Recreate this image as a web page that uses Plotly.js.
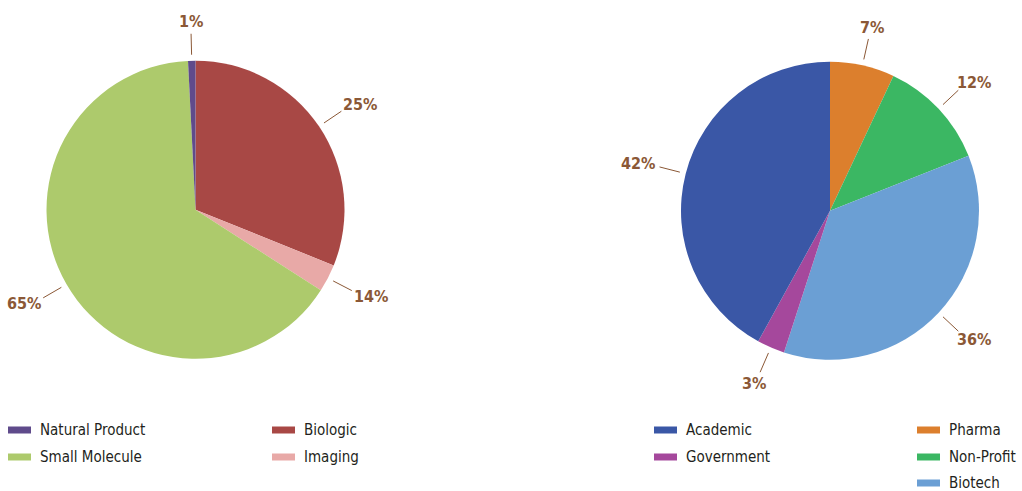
<!DOCTYPE html>
<html><head><meta charset="utf-8">
<script src="https://cdn.plot.ly/plotly-3.0.1.min.js"></script>
<style>html,body{margin:0;padding:0;background:#fff}</style>
</head><body><div id="chart" style="width:1022px;height:491px"></div>
<script>
// ---- data ----
const leftLabels = ['Biologic', 'Imaging', 'Small Molecule', 'Natural Product'];
const leftValues = [31.1, 3.0, 65.1, 0.8];
const leftText = ['25%', '14%', '65%', '1%'];
const leftColors = ['#a84845', '#e8a9a7', '#adca6c', '#5f4b8b'];

const rightLabels = ['Pharma', 'Non-Profit', 'Biotech', 'Government', 'Academic'];
const rightValues = [7, 12, 36, 3, 42];
const rightText = ['7%', '12%', '36%', '3%', '42%'];
const rightColors = ['#dc7f2d', '#3bb763', '#6b9fd4', '#a5489c', '#3a57a6'];

const leftLegendRows = [['Natural Product', 'Biologic'], ['Small Molecule', 'Imaging']];
const rightLegendRows = [['Academic', 'Pharma'], ['Government', 'Non-Profit'], [null, 'Biotech']];

// ---- layout config ----
const W = 1022, H = 491;
const FONT = '"DejaVu Sans Condensed", "Liberation Sans", sans-serif';
const LABEL_COLOR = '#8b5836';
const pies = [
  {labels: leftLabels, values: leftValues, text: leftText, colors: leftColors, cx: 195.5, cy: 209.7, r: 149,
   legend: leftLegendRows, legX: [8, 272]},
  {labels: rightLabels, values: rightValues, text: rightText, colors: rightColors, cx: 830, cy: 210.7, r: 149,
   legend: rightLegendRows, legX: [654, 917]}
];
const legRowY = [430, 457, 483];

const px = x => x / W;
const py = y => 1 - y / H;

const traces = [], shapes = [], annotations = [];

pies.forEach(p => {
  traces.push({
    type: 'pie', labels: p.labels, values: p.values, sort: false, direction: 'clockwise', rotation: 0,
    marker: {colors: p.colors, line: {width: 0}}, textinfo: 'none', hoverinfo: 'label+percent',
    showlegend: false,
    domain: {x: [px(p.cx - p.r), px(p.cx + p.r)], y: [py(p.cy + p.r), py(p.cy - p.r)]}
  });
  const total = p.values.reduce((a, b) => a + b, 0);
  let cum = 0;
  p.values.forEach((v, i) => {
    const mid = (cum + v / 2) / total * 2 * Math.PI;
    cum += v;
    const dx = Math.sin(mid), dy = -Math.cos(mid);
    const r1 = p.r + 6, r2 = p.r + 27;
    const x1 = p.cx + dx * r1, y1 = p.cy + dy * r1;
    const x2 = p.cx + dx * r2, y2 = p.cy + dy * r2;
    shapes.push({type: 'line', xref: 'paper', yref: 'paper', x0: px(x1), y0: py(y1), x1: px(x2), y1: py(y2),
      line: {color: LABEL_COLOR, width: 1}});
    const halfW = 5.3 * p.text[i].length, halfH = 7;
    const lx = x2 + dx * (halfW + 6), ly = y2 + dy * (halfH + 5);
    annotations.push({xref: 'paper', yref: 'paper', x: px(lx), y: py(ly), xanchor: 'center', yanchor: 'middle',
      showarrow: false, text: '<b>' + p.text[i] + '</b>', font: {family: FONT, size: 16, color: LABEL_COLOR}});
  });
  // legend
  p.legend.forEach((row, ri) => {
    row.forEach((name, ci) => {
      if (!name) return;
      const idx = p.labels.indexOf(name);
      const x0 = p.legX[ci], y = legRowY[ri];
      shapes.push({type: 'rect', xref: 'paper', yref: 'paper', x0: px(x0), x1: px(x0 + 23),
        y0: py(y - 3.5), y1: py(y + 3.5), fillcolor: p.colors[idx], line: {width: 0}});
      annotations.push({xref: 'paper', yref: 'paper', x: px(x0 + 30), y: py(y), xanchor: 'left', yanchor: 'middle',
        showarrow: false, text: name, font: {family: FONT, size: 15, color: '#231f20'}});
    });
  });
});

Plotly.newPlot('chart', traces, {
  width: W, height: H, margin: {l: 0, r: 0, t: 0, b: 0},
  paper_bgcolor: '#fff', plot_bgcolor: '#fff', showlegend: false,
  shapes: shapes, annotations: annotations
}, {displayModeBar: false, staticPlot: true});
</script></body></html>
